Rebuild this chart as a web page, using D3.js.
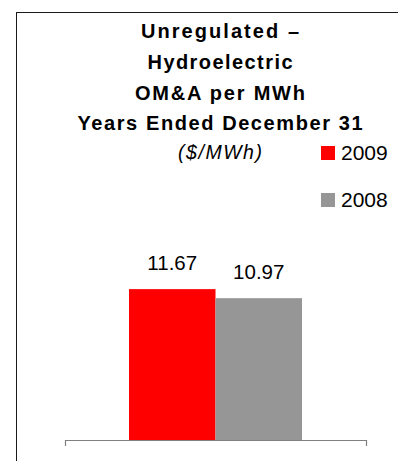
<!DOCTYPE html>
<html>
<head>
<meta charset="utf-8">
<script src="https://cdn.jsdelivr.net/npm/d3@7"></script>
<style>
  html, body { margin: 0; padding: 0; background: #fff; }
  svg { display: block; }
  text { font-family: Arial, "Liberation Sans", sans-serif; fill: #000; }
</style>
</head>
<body>
<svg id="chart" width="398" height="461"></svg>
<script>
// Data
const titleLines = ["Unregulated \u2013", "Hydroelectric", "OM&A per MWh", "Years Ended December 31"];
const unitLabel = "($/MWh)";
const categories = [""];
const seriesNames = ["2009", "2008"];
const seriesValues = [11.67, 10.97];
const seriesColors = ["#ff0000", "#969696"];

// Layout: rendered width of each title line (text is spread to fill it)
const titleWidths = [158, 145, 170, 285];

const svg = d3.select("#chart");

// Outer frame (runs off the right and bottom edges)
svg.append("rect")
  .attr("x", 16.5).attr("y", 12.5)
  .attr("width", 420).attr("height", 480)
  .attr("fill", "none").attr("stroke", "#1a1a1a").attr("stroke-width", 1);

// Title
const titleX = 220;
svg.append("g").selectAll("text")
  .data(titleLines)
  .join("text")
  .attr("x", (d, i) => titleX - titleWidths[i] / 2)
  .attr("y", (d, i) => 38.3 + i * 30.7)
  .attr("font-size", 20)
  .attr("font-weight", "bold")
  .attr("textLength", (d, i) => titleWidths[i])
  .attr("lengthAdjust", "spacing")
  .text(d => d);

svg.append("text")
  .attr("x", titleX - 42)
  .attr("y", 158.5)
  .attr("font-size", 19.5)
  .attr("font-style", "italic")
  .attr("textLength", 84)
  .attr("lengthAdjust", "spacing")
  .text(unitLabel);

// Scales
const x0 = d3.scaleBand().domain(categories).range([65, 366]).paddingOuter(0.37).paddingInner(0);
const x1 = d3.scaleBand().domain(seriesNames).range([0, x0.bandwidth()]).padding(0);
const y = d3.scaleLinear().domain([0, 14]).range([440, 259]);

// Bars
const plot = svg.append("g");
const rows = seriesNames.map((s, i) => ({ cat: categories[0], name: s, value: seriesValues[i], color: seriesColors[i] }));

plot.selectAll("rect.bar")
  .data(rows)
  .join("rect")
  .attr("class", "bar")
  .attr("x", d => x0(d.cat) + x1(d.name))
  .attr("y", d => y(d.value))
  .attr("width", x1.bandwidth())
  .attr("height", d => y(0) - y(d.value))
  .attr("fill", d => d.color);

// Value labels
plot.selectAll("text.val")
  .data(rows)
  .join("text")
  .attr("class", "val")
  .attr("x", d => x0(d.cat) + x1(d.name) + x1.bandwidth() / 2)
  .attr("y", d => y(d.value) - 19.5)
  .attr("text-anchor", "middle")
  .attr("font-size", 20.5)
  .text(d => d.value.toFixed(2));

// Category axis
const axis = svg.append("g")
  .attr("transform", `translate(0,${y(0)})`)
  .call(d3.axisBottom(x0).tickSizeInner(0).tickSizeOuter(6).tickFormat(""));
axis.select(".domain").attr("stroke", "#808080").attr("stroke-width", 1.2);
axis.selectAll(".tick line").remove();

// Legend
const legend = svg.append("g").selectAll("g")
  .data(rows)
  .join("g")
  .attr("transform", (d, i) => `translate(321,${146 + i * 47})`);
legend.append("rect")
  .attr("width", 14).attr("height", 14)
  .attr("fill", d => d.color);
legend.append("text")
  .attr("x", 20).attr("y", 13.5)
  .attr("font-size", 21)
  .text(d => d.name);
</script>
</body>
</html>
